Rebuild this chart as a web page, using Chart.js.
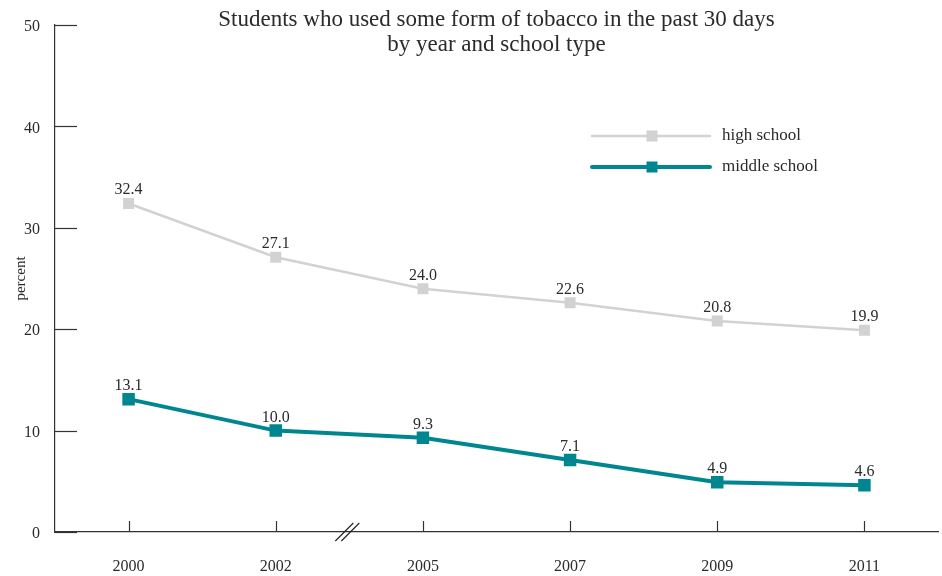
<!DOCTYPE html>
<html>
<head>
<meta charset="utf-8">
<script src="https://cdn.jsdelivr.net/npm/chart.js@4/dist/chart.umd.min.js"></script>
<style>
html,body{margin:0;padding:0;background:#fff;}
#wrap{width:942px;height:576px;position:relative;}
</style>
</head>
<body>
<div id="wrap"><canvas id="c" width="942" height="576"></canvas></div>
<script>
const years = ['2000','2002','2005','2007','2009','2011'];
const highSchool = [32.4, 27.1, 24.0, 22.6, 20.8, 19.9];
const middleSchool = [13.1, 10.0, 9.3, 7.1, 4.9, 4.6];
const yTicks = [0, 10, 20, 30, 40, 50];
const titleLines = ['Students who used some form of tobacco in the past 30 days', 'by year and school type'];
const seriesNames = ['high school', 'middle school'];

const FONT = '"Liberation Serif", "DejaVu Serif", serif';
const TXT = '#2b2b2b';
const GREY = '#d2d2d4';
const TEAL = '#00868f';

const customPlugin = {
  id: 'custom',
  afterDraw(chart) {
    const ctx = chart.ctx;
    const x = chart.scales.x, y = chart.scales.y;
    const ca = chart.chartArea;
    ctx.save();
    ctx.strokeStyle = '#333';
    ctx.lineWidth = 1.2;
    yTicks.forEach(v => {
      const py = Math.round(y.getPixelForValue(v)) + 0.5;
      ctx.beginPath(); ctx.moveTo(ca.left, py); ctx.lineTo(ca.left + 22, py); ctx.stroke();
    });
    years.forEach((_, i) => {
      const px = Math.round(x.getPixelForValue(i)) + 0.5;
      ctx.beginPath(); ctx.moveTo(px, ca.bottom); ctx.lineTo(px, ca.bottom - 11); ctx.stroke();
    });
    const bx = (x.getPixelForValue(1) + x.getPixelForValue(2)) / 2;
    const by = ca.bottom;
    ctx.lineWidth = 1.1;
    ctx.strokeStyle = '#222';
    [-3, 3].forEach(d => {
      ctx.beginPath(); ctx.moveTo(bx - 11 + d, by + 9); ctx.lineTo(bx + 7 + d, by - 9); ctx.stroke();
    });
    ctx.fillStyle = TXT;
    ctx.font = '23px ' + FONT;
    ctx.textAlign = 'center';
    ctx.textBaseline = 'middle';
    const cx = (ca.left + ca.right) / 2;
    ctx.fillText(titleLines[0], cx, 20);
    ctx.fillText(titleLines[1], cx, 45);
    ctx.font = '16px ' + FONT;
    ctx.textBaseline = 'alphabetic';
    chart.data.datasets.forEach((ds, di) => {
      const meta = chart.getDatasetMeta(di);
      meta.data.forEach((pt, i) => {
        ctx.fillText(ds.data[i].toFixed(1), pt.x, pt.y - 9);
      });
    });
    const lx0 = 592, lx1 = 710, lm = 652, ltx = 722;
    const ly = [136, 167];
    chart.data.datasets.forEach((ds, di) => {
      ctx.strokeStyle = ds.borderColor;
      ctx.lineWidth = ds.borderWidth;
      ctx.lineCap = 'round';
      ctx.beginPath(); ctx.moveTo(lx0, ly[di]); ctx.lineTo(lx1, ly[di]); ctx.stroke();
      ctx.fillStyle = ds.pointBackgroundColor;
      const s = 11;
      ctx.fillRect(lm - s / 2, ly[di] - s / 2, s, s);
      ctx.fillStyle = TXT;
      ctx.font = '17px ' + FONT;
      ctx.textAlign = 'left';
      ctx.textBaseline = 'middle';
      ctx.fillText(ds.label, ltx, ly[di]);
    });
    ctx.restore();
  }
};

new Chart(document.getElementById('c'), {
  type: 'line',
  data: {
    labels: years,
    datasets: [
      {
        label: seriesNames[0],
        data: highSchool,
        borderColor: GREY,
        backgroundColor: GREY,
        pointBackgroundColor: GREY,
        pointBorderColor: GREY,
        borderWidth: 2.5,
        pointStyle: 'rect',
        pointRadius: 6,
        tension: 0
      },
      {
        label: seriesNames[1],
        data: middleSchool,
        borderColor: TEAL,
        backgroundColor: TEAL,
        pointBackgroundColor: TEAL,
        pointBorderColor: TEAL,
        borderWidth: 4,
        pointStyle: 'rect',
        pointRadius: 6,
        tension: 0
      }
    ]
  },
  options: {
    responsive: false,
    animation: false,
    layout: { autoPadding: false, padding: { top: 25, right: 4, left: 0, bottom: 0 } },
    plugins: { legend: { display: false }, title: { display: false }, tooltip: { enabled: false } },
    scales: {
      x: {
        offset: true,
        grid: { display: false, drawTicks: false },
        border: { display: true, color: '#333', width: 1.2 },
        ticks: { color: TXT, font: { family: FONT, size: 16 }, padding: 25, maxRotation: 0 },
        afterFit(s) { s.height = 44; }
      },
      y: {
        min: 0, max: 50,
        afterBuildTicks(s) { s.ticks = yTicks.map(v => ({ value: v })); },
        grid: { display: false, drawTicks: false },
        border: { display: true, color: '#333', width: 1.2 },
        ticks: { color: TXT, font: { family: FONT, size: 16 }, padding: 15, labelOffset: 2 },
        title: { display: true, text: 'percent', color: TXT, font: { family: FONT, size: 15 }, padding: { top: 12, bottom: 0 } },
        afterFit(s) { s.width = 55; }
      }
    }
  },
  plugins: [customPlugin]
});
</script>
</body>
</html>
